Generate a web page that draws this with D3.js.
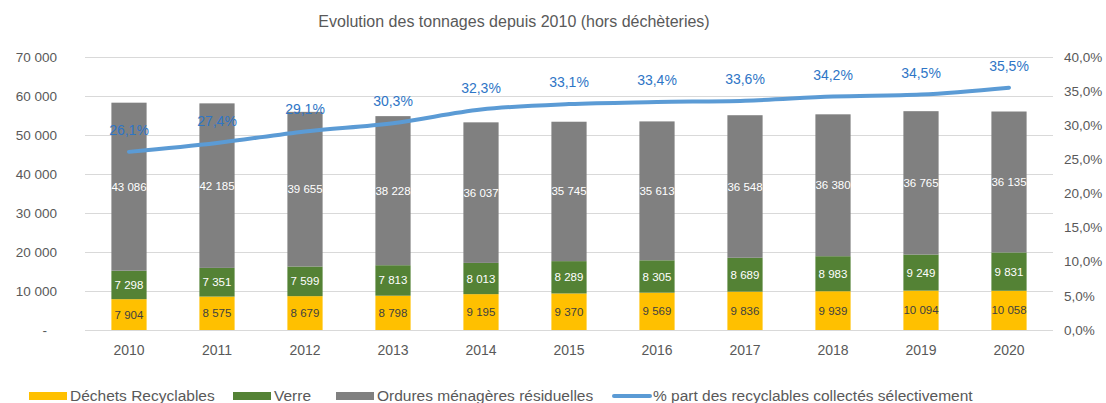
<!DOCTYPE html>
<html>
<head>
<meta charset="utf-8">
<script src="https://cdn.jsdelivr.net/npm/d3@7"></script>
<style>
  body { margin: 0; background: #fff; }
  text { font-family: "Liberation Sans", "DejaVu Sans", sans-serif; }
</style>
</head>
<body>
<div id="wrapper"></div>
<script>
const years = ["2010", "2011", "2012", "2013", "2014", "2015", "2016", "2017", "2018", "2019", "2020"];
const recyclables = [7904, 8575, 8679, 8798, 9195, 9370, 9569, 9836, 9939, 10094, 10058];
const verre = [7298, 7351, 7599, 7813, 8013, 8289, 8305, 8689, 8983, 9249, 9831];
const omr = [43086, 42185, 39655, 38228, 36037, 35745, 35613, 36548, 36380, 36765, 36135];
const partRecyclables = [26.1, 27.4, 29.1, 30.3, 32.3, 33.1, 33.4, 33.6, 34.2, 34.5, 35.5];
const leftTicks = [0, 10000, 20000, 30000, 40000, 50000, 60000, 70000];
const rightTicks = [0, 5, 10, 15, 20, 25, 30, 35, 40];

const seriesNames = ["Déchets Recyclables", "Verre", "Ordures ménagères résiduelles"];
const lineName = "% part des recyclables collectés sélectivement";
const colors = ["#ffc000", "#548235", "#808080"];
const labelColors = ["#404040", "#ffffff", "#ffffff"];
const lineColor = "#5b9bd5";

async function drawChart() {
  const dimensions = {
    width: 1106,
    height: 403,
    margin: { top: 57, right: 53, bottom: 73, left: 85 },
  };
  dimensions.boundedWidth = dimensions.width - dimensions.margin.left - dimensions.margin.right;
  dimensions.boundedHeight = dimensions.height - dimensions.margin.top - dimensions.margin.bottom;

  const svg = d3.select("#wrapper").append("svg")
      .attr("width", dimensions.width)
      .attr("height", dimensions.height);

  const bounds = svg.append("g")
      .attr("transform", `translate(${dimensions.margin.left},${dimensions.margin.top})`);

  // scales
  const xScale = d3.scaleBand()
    .domain(years)
    .range([0, dimensions.boundedWidth])
    .paddingInner(0.6)
    .paddingOuter(0.3);
  const yScale = d3.scaleLinear()
    .domain([0, 70000])
    .range([dimensions.boundedHeight, 0]);
  const pctScale = d3.scaleLinear()
    .domain([0, 40])
    .range([dimensions.boundedHeight, 0]);

  // gridlines
  bounds.append("g").selectAll("line")
    .data(leftTicks)
    .join("line")
      .attr("x1", 0)
      .attr("x2", dimensions.boundedWidth)
      .attr("y1", d => Math.round(yScale(d)) + 0.5)
      .attr("y2", d => Math.round(yScale(d)) + 0.5)
      .attr("stroke", "#d9d9d9")
      .attr("stroke-width", 1);

  // stacked bars
  const rows = years.map((y, i) => ({ year: y, rec: recyclables[i], verre: verre[i], omr: omr[i] }));
  const stacked = d3.stack().keys(["rec", "verre", "omr"])(rows);

  const layers = bounds.append("g").selectAll("g")
    .data(stacked)
    .join("g")
      .attr("fill", (d, i) => colors[i]);
  layers.selectAll("rect")
    .data(d => d)
    .join("rect")
      .attr("x", d => xScale(d.data.year))
      .attr("width", xScale.bandwidth())
      .attr("y", d => yScale(d[1]))
      .attr("height", d => yScale(d[0]) - yScale(d[1]));

  const fmt = d3.formatLocale({ decimal: ",", thousands: " ", grouping: [3], currency: ["", "€"] });
  const fmtInt = fmt.format(",d");
  const fmtPct = fmt.format(".1f");

  layers.each(function(layer, li) {
    d3.select(this).selectAll("text")
      .data(layer)
      .join("text")
        .attr("x", d => xScale(d.data.year) + xScale.bandwidth() / 2)
        .attr("y", d => (yScale(d[0]) + yScale(d[1])) / 2)
        .attr("dy", "0.35em")
        .attr("text-anchor", "middle")
        .attr("fill", labelColors[li])
        .style("font-size", "11.5px")
        .text(d => fmtInt(d[1] - d[0]));
  });

  // line
  const lineGen = d3.line()
    .x((d, i) => xScale(years[i]) + xScale.bandwidth() / 2)
    .y(d => pctScale(d))
    .curve(d3.curveMonotoneX);
  bounds.append("path")
    .datum(partRecyclables)
    .attr("d", lineGen)
    .attr("fill", "none")
    .attr("stroke", lineColor)
    .attr("stroke-width", 4)
    .attr("stroke-linecap", "round");

  bounds.append("g").selectAll("text")
    .data(partRecyclables)
    .join("text")
      .attr("x", (d, i) => xScale(years[i]) + xScale.bandwidth() / 2)
      .attr("y", d => pctScale(d) - 17)
      .attr("text-anchor", "middle")
      .attr("fill", "#2e75c6")
      .style("font-size", "14px")
      .text(d => fmtPct(d) + "%");

  // left axis labels
  bounds.append("g").selectAll("text")
    .data(leftTicks)
    .join("text")
      .attr("x", d => d === 0 ? -38 : -28)
      .attr("y", d => yScale(d))
      .attr("dy", "0.35em")
      .attr("text-anchor", "end")
      .attr("fill", "#595959")
      .style("font-size", "13.5px")
      .text(d => d === 0 ? "-" : fmtInt(d));

  // right axis labels
  bounds.append("g").selectAll("text")
    .data(rightTicks)
    .join("text")
      .attr("x", dimensions.boundedWidth + 11)
      .attr("y", d => pctScale(d))
      .attr("dy", "0.35em")
      .attr("fill", "#595959")
      .style("font-size", "13.5px")
      .text(d => fmtPct(d) + "%");

  // x axis labels
  bounds.append("g").selectAll("text")
    .data(years)
    .join("text")
      .attr("x", d => xScale(d) + xScale.bandwidth() / 2)
      .attr("y", dimensions.boundedHeight + 25)
      .attr("text-anchor", "middle")
      .attr("fill", "#595959")
      .style("font-size", "14px")
      .text(d => d);

  // title
  svg.append("text")
    .attr("x", 514)
    .attr("y", 27)
    .attr("text-anchor", "middle")
    .attr("fill", "#595959")
    .style("font-size", "16px")
    .text("Evolution des tonnages depuis 2010 (hors déchèteries)");

  // legend
  const legendItems = [
    { name: seriesNames[0], color: colors[0], x: 29, type: "rect" },
    { name: seriesNames[1], color: colors[1], x: 233, type: "rect" },
    { name: seriesNames[2], color: colors[2], x: 336, type: "rect" },
    { name: lineName, color: lineColor, x: 612, type: "line" },
  ];
  const legend = svg.append("g").attr("transform", "translate(0,396)");
  const li = legend.selectAll("g")
    .data(legendItems)
    .join("g")
      .attr("transform", d => `translate(${d.x},0)`);
  li.filter(d => d.type === "rect").append("rect")
    .attr("x", 0)
    .attr("y", -4)
    .attr("width", 38)
    .attr("height", 8)
    .attr("fill", d => d.color);
  li.filter(d => d.type === "line").append("line")
    .attr("x1", 2)
    .attr("x2", 38)
    .attr("y1", 0)
    .attr("y2", 0)
    .attr("stroke", d => d.color)
    .attr("stroke-width", 4)
    .attr("stroke-linecap", "round");
  li.append("text")
    .attr("x", 41)
    .attr("y", 0)
    .attr("dy", "0.35em")
    .attr("fill", "#595959")
    .style("font-size", "15.5px")
    .text(d => d.name);
}
drawChart();
</script>
</body>
</html>
